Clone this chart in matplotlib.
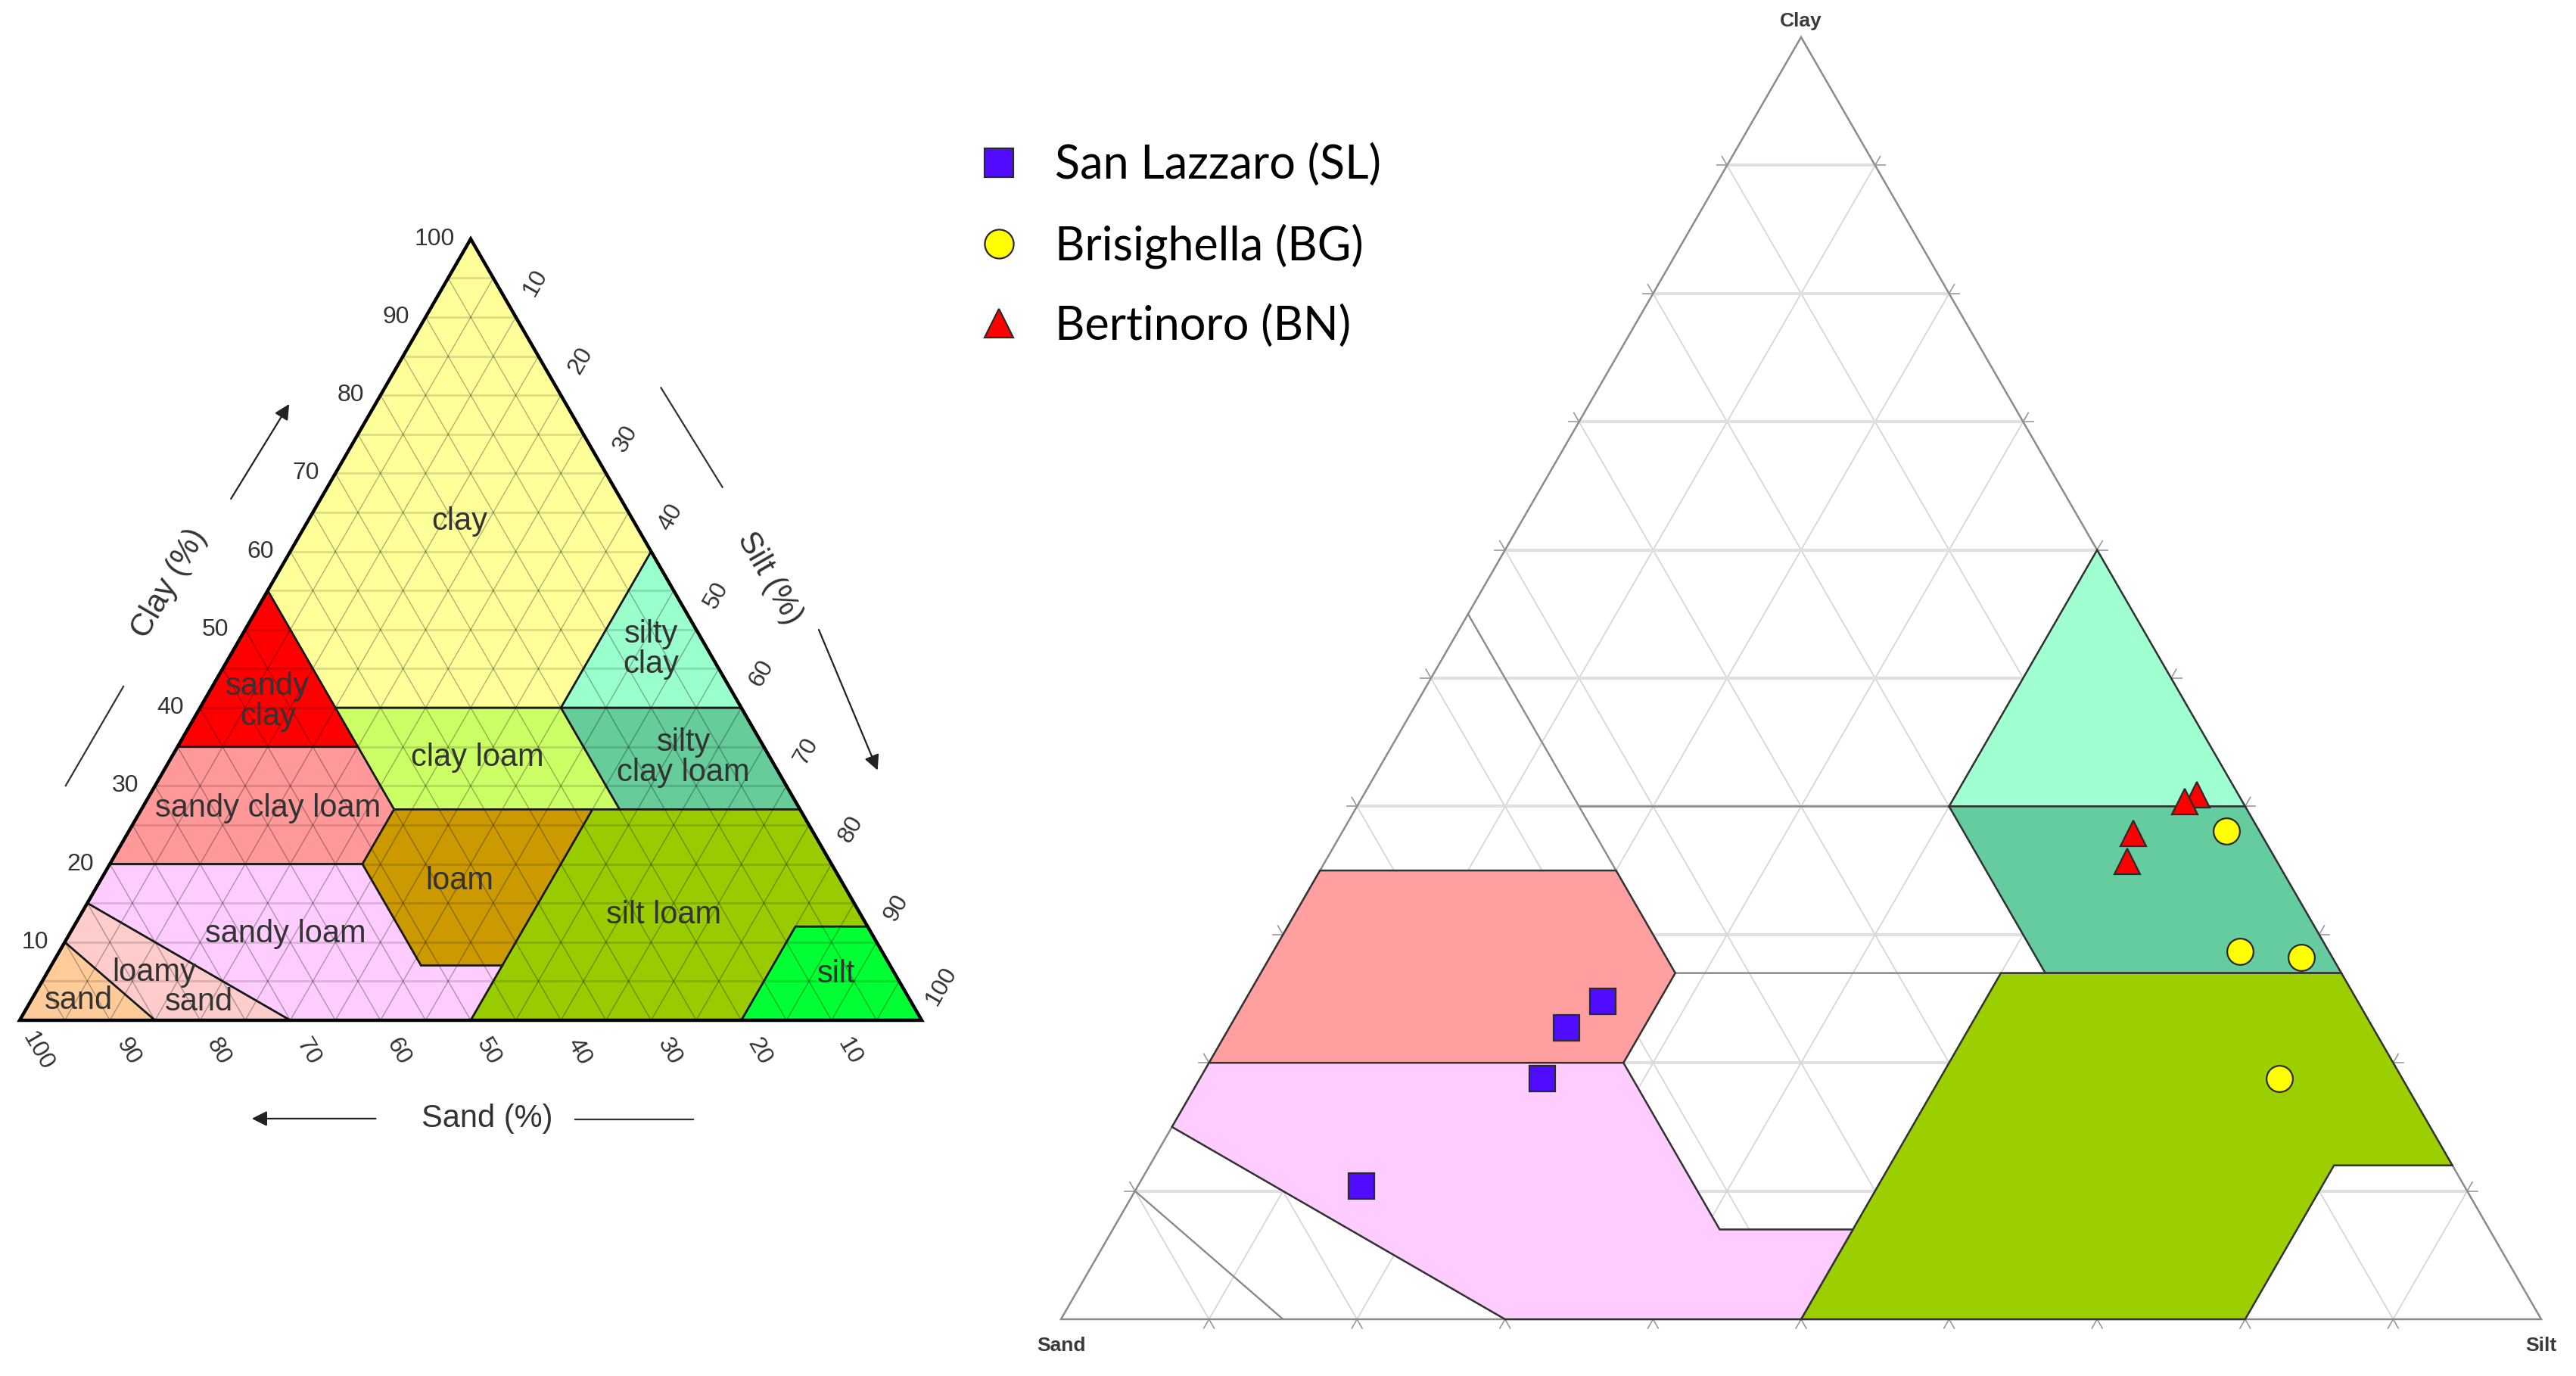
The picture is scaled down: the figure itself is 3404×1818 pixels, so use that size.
import numpy as np
import matplotlib.pyplot as plt
from matplotlib.patches import Polygon

W, H = 3404, 1818
SQ3 = np.sqrt(3) / 2

# USDA texture classes, corners as (clay, silt, sand) %
usda_names = ['clay', 'sandy clay', 'silty clay', 'sandy clay loam', 'clay loam',
              'silty clay loam', 'loam', 'silt loam', 'sandy loam', 'loamy sand',
              'sand', 'silt']
usda_corners = [
    [(55, 0, 45), (100, 0, 0), (60, 40, 0), (40, 40, 20), (40, 15, 45)],
    [(35, 0, 65), (55, 0, 45), (35, 20, 45)],
    [(40, 40, 20), (60, 40, 0), (40, 60, 0)],
    [(20, 0, 80), (35, 0, 65), (35, 20, 45), (27, 28, 45), (20, 28, 52)],
    [(27, 28, 45), (40, 15, 45), (40, 40, 20), (27, 53, 20)],
    [(27, 53, 20), (40, 40, 20), (40, 60, 0), (27, 73, 0)],
    [(7, 41, 52), (20, 28, 52), (27, 28, 45), (27, 50, 23), (7, 50, 43)],
    [(0, 50, 50), (7, 50, 43), (27, 50, 23), (27, 73, 0), (12, 88, 0), (12, 80, 8), (0, 80, 20)],
    [(15, 0, 85), (20, 0, 80), (20, 28, 52), (7, 41, 52), (7, 50, 43), (0, 50, 50), (0, 30, 70)],
    [(10, 0, 90), (15, 0, 85), (0, 30, 70), (0, 15, 85)],
    [(0, 0, 100), (10, 0, 90), (0, 15, 85)],
    [(0, 80, 20), (12, 80, 8), (12, 88, 0), (0, 100, 0)],
]
left_colors = ['#FFFF99', '#FF0000', '#99FFCC', '#FF9999', '#CCFF66', '#66CC99',
               '#CC9900', '#99CC00', '#FFCCFF', '#FFCCCC', '#FFCC99', '#00FF33']
right_fill = {'silty clay': '#A0FFD0', 'silty clay loam': '#64CC9E',
              'silt loam': '#9BCF00', 'sandy clay loam': '#FF9F9F',
              'sandy loam': '#FFCCFF'}

# region labels on the left chart
left_labels = ['clay', 'sandy\nclay', 'silty\nclay', 'clay loam', 'silty\nclay loam',
               'sandy clay loam', 'loam', 'silt loam', 'sandy loam', 'loamy',
               'sand', 'sand', 'silt']
left_label_uv = [(48.8, 55.3), (27.5, 35.3), (70.0, 41.1), (50.7, 29.1), (73.6, 29.1),
                 (27.5, 23.5), (48.8, 15.4), (71.4, 11.7), (29.5, 9.6), (14.9, 5.3),
                 (19.9, 2.0), (6.5, 2.2), (90.5, 5.1)]

# samples, % (clay, silt, sand)
sites = ['San Lazzaro (SL)', 'Brisighella (BG)', 'Bertinoro (BN)']
sl_clay = [24.8, 22.7, 18.8, 10.4]
sl_silt = [24.2, 22.8, 23.1, 15.1]
sl_sand = [51.0, 54.5, 58.1, 74.5]
bg_clay = [38.1, 28.7, 28.2, 18.8]
bg_silt = [59.7, 65.3, 69.7, 72.9]
bg_sand = [2.2, 6.0, 2.1, 8.3]
bn_clay = [40.9, 40.4, 37.9, 35.7]
bn_silt = [56.3, 55.7, 53.5, 54.2]
bn_sand = [2.8, 3.9, 8.6, 10.1]


def tern(clay, silt, sand):
    clay = np.asarray(clay, float)
    silt = np.asarray(silt, float)
    sand = np.asarray(sand, float)
    tot = clay + silt + sand
    return 100 * (silt + clay / 2) / tot, 100 * clay * SQ3 / tot


def tri_axes(fig, x0, y0, side, pad=16):
    s = side / 100
    ax = fig.add_axes([(x0 - pad * s) / W, (H - y0 - pad * s) / H,
                       (100 + 2 * pad) * s / W, (100 * SQ3 + 2 * pad) * s / H])
    ax.set_xlim(-pad, 100 + pad)
    ax.set_ylim(-pad, 100 * SQ3 + pad)
    ax.axis('off')
    return ax


def seg(ax, a, b, **kw):
    x, y = tern([a[0], b[0]], [a[1], b[1]], [a[2], b[2]])
    ax.plot(x, y, solid_capstyle='butt', **kw)


fig = plt.figure(figsize=(W / 100, H / 100), dpi=100)
FONT = 'Liberation Sans'

# ---------------- left: USDA reference triangle ----------------
axl = tri_axes(fig, 26, 1348, 1192)
for corners, col in zip(usda_corners, left_colors):
    x, y = tern(*zip(*corners))
    axl.add_patch(Polygon(np.c_[x, y], closed=True, fc=col, ec='none', zorder=1))

for k in range(5, 100, 5):
    seg(axl, (k, 0, 100 - k), (k, 100 - k, 0), color=(0, 0, 0, 0.13), lw=2.2, zorder=2)
    seg(axl, (0, k, 100 - k), (100 - k, k, 0), color=(0, 0, 0, 0.30), lw=1.0, zorder=2)
    seg(axl, (0, 100 - k, k), (100 - k, 0, k), color=(0, 0, 0, 0.30), lw=1.0, zorder=2)

for corners in usda_corners:
    x, y = tern(*zip(*corners))
    axl.add_patch(Polygon(np.c_[x, y], closed=True, fc='none', ec='#1a1a1a',
                          lw=1.8, zorder=3))
axl.add_patch(Polygon([[0, 0], [100, 0], [50, 100 * SQ3]], closed=True, fc='none',
                      ec='black', lw=3.2, zorder=4, joinstyle='miter'))

for txt, (u, v) in zip(left_labels, left_label_uv):
    axl.text(u, v, txt, ha='center', va='center', fontsize=30, color='#333333',
             family=FONT, linespacing=1.0, zorder=5)

for k in range(10, 101, 10):
    # clay (left edge)
    x, y = tern(k, 0, 100 - k)
    axl.text(x - 1.8, y, str(k), ha='right', va='center', fontsize=23,
             color='#333333', family=FONT)
    # silt (right edge)
    x, y = tern(100 - k, k, 0)
    axl.text(x + 4.4 * 0.5, y + 4.4 * SQ3, str(k), ha='center', va='center',
             fontsize=23, color='#333333', family=FONT, rotation=60)
    # sand (bottom edge)
    x, y = tern(0, 100 - k, k)
    axl.text(x + 4.0 * 0.5, y - 4.0 * SQ3, str(k), ha='center', va='center',
             fontsize=23, color='#333333', family=FONT, rotation=-60)

axl.text(16.6, 48.4, 'Clay (%)', rotation=60, ha='center', va='center',
         fontsize=30, color='#333333', family=FONT)
axl.text(83.1, 49.0, 'Silt (%)', rotation=-60, ha='center', va='center',
         fontsize=30, color='#333333', family=FONT)
axl.text(51.8, -10.9, 'Sand (%)', ha='center', va='center',
         fontsize=30, color='#333333', family=FONT)
arrow = dict(arrowstyle='-|>', color='#222222', lw=1.6, mutation_scale=30)
axl.annotate('', xy=(30.0, 68.5), xytext=(23.3, 57.6), arrowprops=arrow,
             annotation_clip=False)
axl.plot([5.1, 11.5], [26.0, 37.0], color='#333333', lw=1.6)
axl.annotate('', xy=(95.2, 27.5), xytext=(88.5, 43.5), arrowprops=arrow,
             annotation_clip=False)
axl.plot([71.1, 77.9], [70.1, 59.1], color='#333333', lw=1.6)
axl.annotate('', xy=(25.5, -10.9), xytext=(39.7, -10.9), arrowprops=arrow,
             annotation_clip=False)
axl.plot([61.6, 74.7], [-11.0, -11.0], color='#333333', lw=1.6)

# ---------------- right: samples ----------------
axr = tri_axes(fig, 1402, 1743, 1956)
grid = dict(color='#D6D6D6', lw=1.3, zorder=1)
for k in range(10, 100, 10):
    seg(axr, (k, 0, 100 - k), (k, 100 - k, 0), color='#E0E0E0', lw=3.0, zorder=1)
    seg(axr, (0, k, 100 - k), (100 - k, k, 0), **grid)
    seg(axr, (0, 100 - k, k), (100 - k, 0, k), **grid)

L = 0.7
for k in range(10, 100, 10):
    tick = dict(color='#999999', lw=1.2, zorder=1)
    x, y = tern(k, 0, 100 - k)
    axr.plot([x, x - L], [y, y], **tick)
    axr.plot([x, x - 0.5 * L], [y, y + SQ3 * L], **tick)
    x, y = tern(k, 100 - k, 0)
    axr.plot([x, x + L], [y, y], **tick)
    axr.plot([x, x + 0.5 * L], [y, y + SQ3 * L], **tick)
    x, y = tern(0, k, 100 - k)
    axr.plot([x, x + 0.5 * L], [y, y - SQ3 * L], **tick)
    axr.plot([x, x - 0.5 * L], [y, y - SQ3 * L], **tick)

axr.add_patch(Polygon([[0, 0], [100, 0], [50, 100 * SQ3]], closed=True, fc='none',
                      ec='#A8A8A8', lw=1.8, zorder=1.5))
for name, corners in zip(usda_names, usda_corners):
    x, y = tern(*zip(*corners))
    if name in right_fill:
        axr.add_patch(Polygon(np.c_[x, y], closed=True, fc=right_fill[name],
                              ec='#333333', lw=1.8, zorder=3))
    else:
        axr.add_patch(Polygon(np.c_[x, y], closed=True, fc='none',
                              ec='#8C8C8C', lw=1.5, zorder=2))

mk = dict(ls='none', ms=25, mew=1.6, mec='#2a2a2a', zorder=5)
x, y = tern(sl_clay, sl_silt, sl_sand)
h1, = axr.plot(x, y, marker='s', mfc='#4F0CFF', label=sites[0], **mk)
x, y = tern(bg_clay, bg_silt, bg_sand)
h2, = axr.plot(x, y, marker='o', mfc='#FFFF00', label=sites[1], **mk)
x, y = tern(bn_clay, bn_silt, bn_sand)
h3, = axr.plot(x, y, marker='^', mfc='#FF0000', label=sites[2], **mk)

cl = dict(fontsize=19, fontweight='bold', color='#3a3a3a', family=FONT,
          ha='center', va='center')
axr.text(50, 100 * SQ3 + 1.1, 'Clay', **cl)
axr.text(0, -1.8, 'Sand', **cl)
axr.text(100, -1.8, 'Silt', **cl)

fig.legend(handles=[h1, h2, h3], labels=sites, loc='upper left',
           bbox_to_anchor=(1289 / W, 1 - 190 / H), frameon=False,
           prop={'family': 'Lato', 'size': 44}, handlelength=1.0,
           handletextpad=0.72, labelspacing=0.78, borderpad=0, borderaxespad=0,
           markerscale=1.1)

fig.savefig('out.png', dpi=100, facecolor='white')
